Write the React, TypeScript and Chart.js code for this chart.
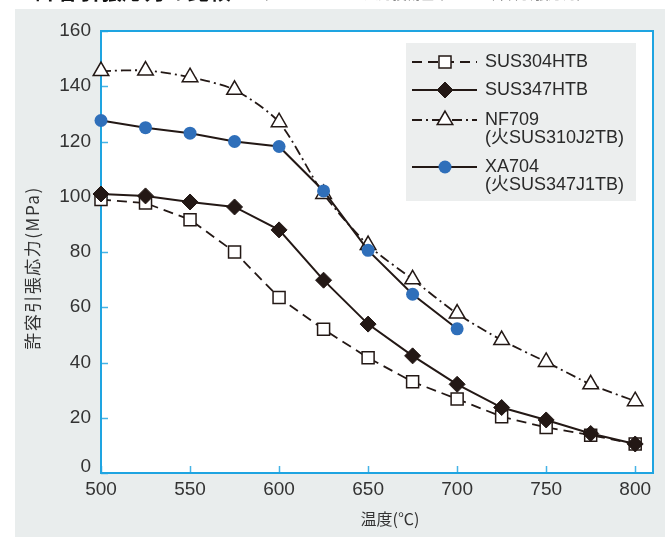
import React, { useEffect, useRef } from "react";
import { Chart, registerables } from "chart.js";
import { drawPoint } from "chart.js/helpers";

Chart.register(...registerables);

// ---------- data ----------
const temperatures = [500, 525, 550, 575, 600, 625, 650, 675, 700, 725, 750, 775, 800];
const sus304htb = [99, 97.7, 91.7, 80, 63.5, 52, 41.7, 33, 26.8, 20.4, 16.5, 13.7, 10.5];
const sus347htb = [101, 100.3, 98.1, 96.3, 88, 69.8, 53.9, 42.4, 32.1, 23.7, 19.2, 14.3, 10.5];
const nf709 = [145.5, 145.7, 143.3, 138.7, 127, 101, 82.5, 70.1, 57.7, 48.1, 40.2, 32.1, 26];
const xa704 = [127.6, 125, 123, 120, 118.2, 102.1, 80.6, 64.7, 52.2];

const xTickValues = [500, 550, 600, 650, 700, 750, 800];
const yTickValues = [0, 20, 40, 60, 80, 100, 120, 140, 160];

const legendLabels: string[][] = [
  ["SUS304HTB"],
  ["SUS347HTB"],
  ["NF709", "(火SUS310J2TB)"],
  ["XA704", "(火SUS347J1TB)"],
];
const xTitle = "温度(℃)";
const yTitle = "許容引張応力(MPa)";
const headTitle = "許容引張応力の比較";
const headSubTitle = "（ASME Sec.Ⅰ・火力技術基準による許容引張応力）";

// ---------- styles ----------
const INK = "#231815";
const BLUE_PT = "#2f6fba";
const FRAME = "#1ea4e1";
const TICK = "#45b3e6";
const PANEL = "#e9eded";
const FONT = '"Liberation Sans", Arial, "Noto Sans CJK JP", sans-serif';
const CJK = '"Noto Sans CJK JP", "Liberation Sans", sans-serif';

const toPts = (vals: number[]) => vals.map((v, i) => ({ x: temperatures[i], y: v }));

const decorPlugin = {
  id: "decor",
  beforeDraw(chart: any) {
    const { ctx, width, height, chartArea } = chart;
    ctx.save();
    ctx.fillStyle = "#ffffff";
    ctx.fillRect(0, 0, width, height);
    ctx.fillStyle = PANEL;
    ctx.fillRect(15, 9, width - 15, height - 9);
    ctx.fillStyle = "#ffffff";
    ctx.fillRect(chartArea.left, chartArea.top, chartArea.right - chartArea.left, chartArea.bottom - chartArea.top);
    // cut-off heading at very top
    ctx.textBaseline = "alphabetic";
    ctx.textAlign = "left";
    ctx.fillStyle = "#111111";
    ctx.font = `bold 22px ${CJK}`;
    ctx.fillText(headTitle, 35, -1, 196);
    ctx.fillStyle = "#8a8a8a";
    ctx.font = `18px ${CJK}`;
    ctx.fillText(headSubTitle, 254, -1, 337);
    ctx.restore();
  },
  beforeDatasetsDraw(chart: any) {
    const { ctx, chartArea, scales } = chart;
    const { left, right, top, bottom } = chartArea;
    ctx.save();
    // inner ticks
    ctx.strokeStyle = TICK;
    ctx.lineWidth = 1.5;
    ctx.beginPath();
    yTickValues.forEach((v) => {
      const y = Math.round(scales.y.getPixelForValue(v)) + 0.5;
      ctx.moveTo(left, y);
      ctx.lineTo(left + 7, y);
    });
    xTickValues.forEach((v) => {
      const x = Math.round(scales.x.getPixelForValue(v)) + 0.5;
      ctx.moveTo(x, bottom);
      ctx.lineTo(x, bottom - 7);
    });
    ctx.stroke();
    // frame
    ctx.strokeStyle = FRAME;
    ctx.lineWidth = 2;
    ctx.strokeRect(left, top, right - left, bottom - top);
    ctx.restore();
  },
  afterDraw(chart: any) {
    const { ctx } = chart;
    ctx.save();
    // axis titles
    ctx.fillStyle = "#333333";
    ctx.font = `16px ${CJK}`;
    ctx.textAlign = "center";
    ctx.textBaseline = "middle";
    ctx.fillText(xTitle, 390, 519);
    ctx.translate(33, 268);
    ctx.rotate(-Math.PI / 2);
    ctx.font = `17px ${CJK}`;
    (ctx as any).letterSpacing = "1.5px";
    ctx.fillText(yTitle, 0, 0);
    ctx.restore();

    // legend
    ctx.save();
    const bx = 406, by = 43, bw = 230, bh = 158;
    ctx.fillStyle = "#eceeee";
    ctx.fillRect(bx, by, bw, bh);
    const rows = [62, 90, 120, 167];
    const lx0 = 412, lx1 = 477, mx = 445, tx = 485;
    chart.data.datasets.forEach((ds: any, i: number) => {
      const y = rows[i];
      ctx.save();
      ctx.strokeStyle = ds.borderColor;
      ctx.lineWidth = ds.borderWidth;
      ctx.setLineDash(ds.borderDash || []);
      ctx.beginPath();
      ctx.moveTo(lx0, y);
      ctx.lineTo(lx1, y);
      ctx.stroke();
      ctx.setLineDash([]);
      ctx.fillStyle = ds.pointBackgroundColor;
      ctx.strokeStyle = ds.pointBorderColor;
      ctx.lineWidth = ds.pointBorderWidth;
      drawPoint(ctx, { pointStyle: ds.pointStyle, radius: ds.pointRadius, rotation: 0, borderWidth: ds.pointBorderWidth }, mx, y);
      ctx.restore();
      ctx.fillStyle = "#2a2a2a";
      ctx.font = `18px ${FONT}`;
      ctx.textAlign = "left";
      ctx.textBaseline = "middle";
      legendLabels[i].forEach((line, j) => {
        ctx.fillText(line, tx, y + j * 18.5);
      });
    });
    ctx.restore();
  },
};

export default function App() {
  const ref = useRef<HTMLCanvasElement | null>(null);

  useEffect(() => {
    if (!ref.current) return;
    const tickFont = { family: FONT, size: 19 };
    const chart = new Chart(ref.current, {
      type: "line",
      data: {
        datasets: [
          {
            label: legendLabels[0].join(" "),
            data: toPts(sus304htb),
            borderColor: INK,
            borderWidth: 1.8,
            borderDash: [10, 6],
            pointStyle: "rect",
            pointRadius: 8.5,
            pointBackgroundColor: "#ffffff",
            pointBorderColor: INK,
            pointBorderWidth: 1.5,
            tension: 0,
            clip: false,
            order: 3,
          },
          {
            label: legendLabels[1].join(" "),
            data: toPts(sus347htb),
            borderColor: INK,
            borderWidth: 2,
            borderDash: [],
            pointStyle: "rectRot",
            pointRadius: 8,
            pointBackgroundColor: INK,
            pointBorderColor: INK,
            pointBorderWidth: 1,
            tension: 0,
            clip: false,
            order: 1,
          },
          {
            label: legendLabels[2].join(" "),
            data: toPts(nf709),
            borderColor: INK,
            borderWidth: 1.8,
            borderDash: [10, 4, 2, 4],
            pointStyle: "triangle",
            pointRadius: 9,
            pointBackgroundColor: "#ffffff",
            pointBorderColor: INK,
            pointBorderWidth: 1.5,
            tension: 0.25,
            clip: false,
            order: 2,
          },
          {
            label: legendLabels[3].join(" "),
            data: toPts(xa704),
            borderColor: INK,
            borderWidth: 2,
            borderDash: [],
            pointStyle: "circle",
            pointRadius: 6.5,
            pointBackgroundColor: BLUE_PT,
            pointBorderColor: BLUE_PT,
            pointBorderWidth: 0,
            tension: 0,
            clip: false,
            order: 0,
          },
        ],
      },
      options: {
        animation: false,
        responsive: false,
        devicePixelRatio: 1,
        layout: { padding: { left: 0, top: 31, right: 12, bottom: 0 } },
        plugins: { legend: { display: false }, tooltip: { enabled: false }, title: { display: false } },
        scales: {
          x: {
            type: "linear",
            min: 500,
            max: 810,
            grid: { display: false, drawTicks: false },
            border: { display: false },
            afterBuildTicks: (s: any) => {
              s.ticks = xTickValues.map((v) => ({ value: v }));
            },
            afterFit: (s: any) => {
              s.height = 64;
            },
            ticks: { font: tickFont, color: "#333333", padding: 5, maxRotation: 0, autoSkip: false },
          },
          y: {
            type: "linear",
            min: 0,
            max: 160,
            grid: { display: false, drawTicks: false },
            border: { display: false },
            afterBuildTicks: (s: any) => {
              s.ticks = yTickValues.map((v) => ({ value: v }));
            },
            afterFit: (s: any) => {
              s.width = 101;
            },
            ticks: {
              color: "#333333",
              padding: 10,
              autoSkip: false,
              font: (c: any) =>
                c.tick && c.tick.value === 0
                  ? { family: FONT, size: 19, lineHeight: 0.7 }
                  : { family: FONT, size: 19 },
              callback: (v: any) => (v === 0 ? ["0", ""] : String(v)),
            },
          },
        },
      } as any,
      plugins: [decorPlugin],
    });
    return () => chart.destroy();
  }, []);

  return (
    <div style={{ position: "fixed", left: 0, top: 0, width: 665, height: 537 }}>
      <canvas ref={ref} width={665} height={537} style={{ display: "block", width: 665, height: 537 }} />
    </div>
  );
}
